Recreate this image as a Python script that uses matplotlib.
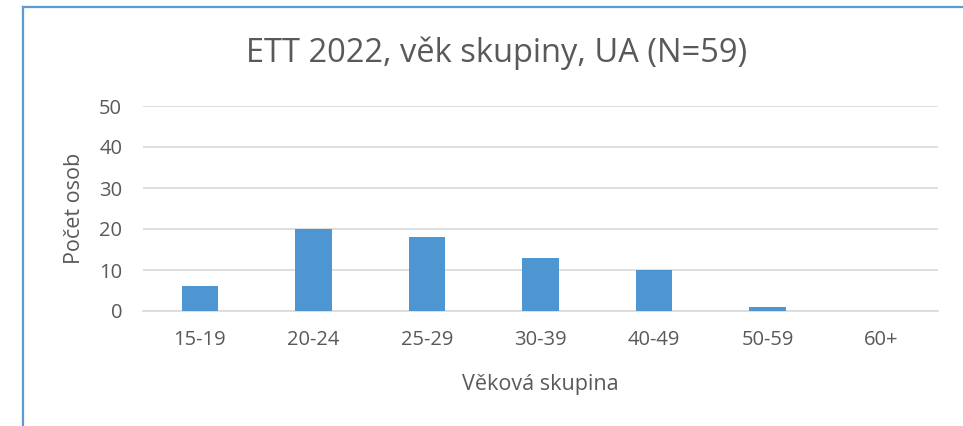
import matplotlib.pyplot as plt
from matplotlib.lines import Line2D

categories = ["15-19", "20-24", "25-29", "30-39", "40-49", "50-59", "60+"]
counts = [6, 20, 18, 13, 10, 1, 0]
yticks = [0, 10, 20, 30, 40, 50]

plt.rcParams['font.family'] = ['Open Sans', 'DejaVu Sans']
grey = '#595959'

fig = plt.figure(figsize=(9.63, 4.26), dpi=100)
ax = fig.add_axes([143 / 963, 1 - 311 / 426, (938 - 143) / 963, (311 - 106) / 426])

x = list(range(len(categories)))
ax.bar(x, counts, width=0.32, color='#4E96D2', zorder=3)
ax.set_xlim(-0.5, len(categories) - 0.5)
ax.set_ylim(0, 50)
ax.set_yticks(yticks)
ax.set_xticks(x)
ax.set_xticklabels(categories)
ax.grid(axis='y', color='#D9D9D9', linewidth=1.2, zorder=0)
for s in ['top', 'right', 'left']:
    ax.spines[s].set_visible(False)
ax.spines['bottom'].set_color('#D9D9D9')
ax.spines['bottom'].set_linewidth(1.2)
ax.tick_params(length=0, labelsize=14.5, colors=grey)
ax.tick_params(axis='y', pad=15)
ax.tick_params(axis='x', pad=14)
ax.set_ylabel("Počet osob", fontsize=15.5, color=grey, labelpad=10)
ax.set_xlabel("Věková skupina", fontsize=15.5, color=grey, labelpad=17)
fig.text(0.516, 1 - 53 / 426, "ETT 2022, věk skupiny, UA (N=59)", ha='center', va='center',
         fontsize=23.5, color=grey)

# frame of the chart box (cut off at right and bottom)
bx = 22.5 / 963
by = 1 - 6.5 / 426
fig.add_artist(Line2D([bx, bx], [0, by], transform=fig.transFigure, color='#5B9BD5', linewidth=1.6))
fig.add_artist(Line2D([bx, 1], [by, by], transform=fig.transFigure, color='#5B9BD5', linewidth=1.6))

fig.savefig("out.png", dpi=100)
